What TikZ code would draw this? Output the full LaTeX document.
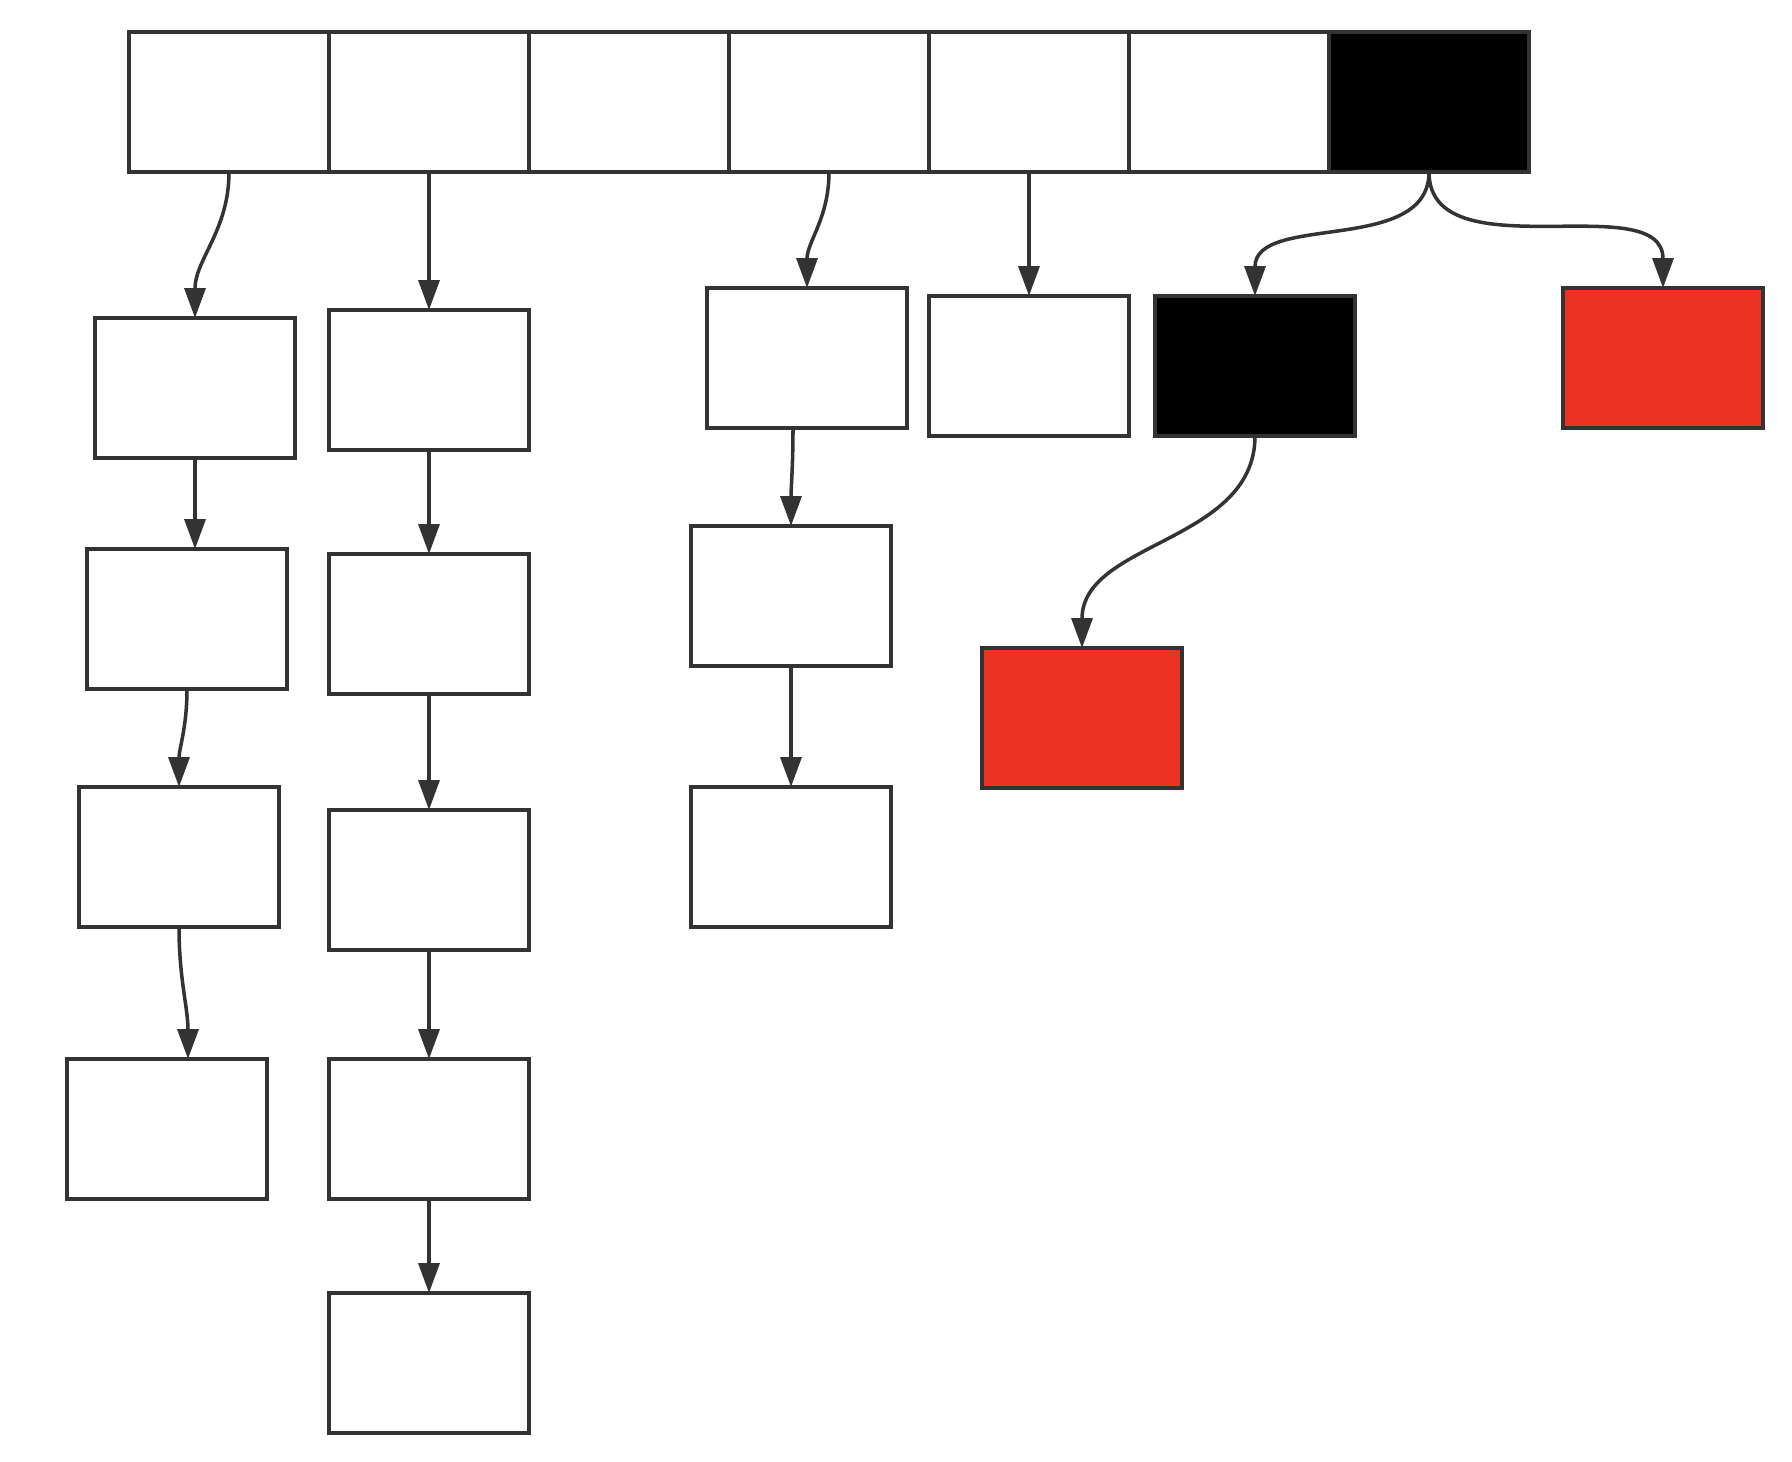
\documentclass[tikz,border=0pt]{standalone}
\usetikzlibrary{arrows.meta}
\definecolor{lc}{HTML}{333333}
\definecolor{redf}{HTML}{EC3323}
\begin{document}
\begin{tikzpicture}[x=0.02cm,y=-0.02cm,
  cell/.style={draw=lc,line width=2pt,minimum width=4cm,minimum height=2.8cm,inner sep=0pt,outer sep=0pt,fill=white},
  blk/.style={cell,fill=black},
  redbox/.style={cell,fill=redf},
  arr/.style={draw=lc,line width=2pt,-{Triangle[length=0.6cm,width=0.42cm]}},
  cv/.style={arr,out=-90,in=90}]
\useasboundingbox (0,0) rectangle (1792,1462);
% top array
\node[cell] (c1) at (229,102) {};
\node[cell] (c2) at (429,102) {};
\node[cell] (c3) at (629,102) {};
\node[cell] (c4) at (829,102) {};
\node[cell] (c5) at (1029,102) {};
\node[cell] (c6) at (1229,102) {};
\node[blk]  (c7) at (1429,102) {};
% column 1
\node[cell] (a1) at (195,388) {};
\node[cell] (a2) at (187,619) {};
\node[cell] (a3) at (179,857) {};
\node[cell] (a4) at (167,1129) {};
% column 2
\node[cell] (b1) at (429,380) {};
\node[cell] (b2) at (429,624) {};
\node[cell] (b3) at (429,880) {};
\node[cell] (b4) at (429,1129) {};
\node[cell] (b5) at (429,1363) {};
% column 4
\node[cell] (d1) at (807,358) {};
\node[cell] (d2) at (791,596) {};
\node[cell] (d3) at (791,857) {};
% column 5
\node[cell] (e1) at (1029,366) {};
% right part
\node[blk] (k) at (1255,366) {};
\node[redbox] (r1) at (1663,358) {};
\node[redbox] (r2) at (1082,718) {};
% connectors
\draw[cv] (c1.south) to (a1.north);
\draw[arr] (a1.south) -- (a1.south |- a2.north);
\draw[cv] (a2.south) to (a3.north);
\draw[cv] (a3.south) to ([xshift=0.42cm]a4.north);
\draw[arr] (c2.south) -- (b1.north);
\draw[arr] (b1.south) -- (b2.north);
\draw[arr] (b2.south) -- (b3.north);
\draw[arr] (b3.south) -- (b4.north);
\draw[arr] (b4.south) -- (b5.north);
\draw[cv] (c4.south) to (d1.north);
\draw[cv] ([xshift=-0.28cm]d1.south) to (d2.north);
\draw[arr] (d2.south) -- (d3.north);
\draw[arr] (c5.south) -- (e1.north);
\draw[cv] (c7.south) to (k.north);
\draw[cv] (c7.south) to (r1.north);
\draw[cv] (k.south) to (r2.north);
\end{tikzpicture}
\end{document}
